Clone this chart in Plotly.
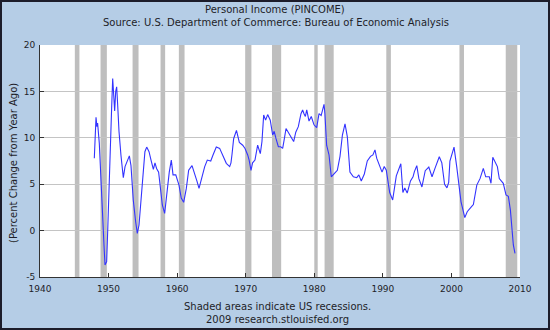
import plotly.graph_objects as go

# Personal income, percent change from a year ago (decimal year, %)
years = [
    1947.92, 1948.0, 1948.17, 1948.3, 1948.4, 1948.65, 1948.9, 1949.09, 1949.33, 1949.48,
    1949.6, 1949.72, 1949.87, 1950.06, 1950.25, 1950.45, 1950.6, 1950.75, 1950.89, 1951.04,
    1951.18, 1951.33, 1951.52, 1951.81, 1952.15, 1952.4, 1952.74, 1953.03, 1953.27, 1953.6,
    1953.95, 1954.19, 1954.44, 1954.83, 1955.07, 1955.3, 1955.56, 1955.9, 1956.19, 1956.53,
    1956.77, 1957.0, 1957.3, 1957.6, 1957.84, 1958.18, 1958.57, 1958.85, 1959.15, 1959.4,
    1959.8, 1960.27, 1960.6, 1960.95, 1961.34, 1961.68, 1962.17, 1962.56, 1962.9, 1963.19,
    1963.63, 1964.02, 1964.4, 1964.9, 1965.23, 1965.71, 1966.2, 1966.69, 1967.17, 1967.66,
    1967.85, 1968.0, 1968.24, 1968.65, 1969.07, 1969.56, 1969.9, 1970.29, 1970.5, 1970.77,
    1971.0, 1971.35, 1971.74, 1972.13, 1972.37, 1972.62, 1972.9, 1973.2, 1973.58, 1973.93,
    1974.15, 1974.42, 1974.76, 1975.1, 1975.39, 1975.6, 1975.88, 1976.2, 1976.6, 1976.99,
    1977.3, 1977.67, 1978.06, 1978.3, 1978.5, 1978.7, 1978.9, 1979.23, 1979.56, 1979.96,
    1980.35, 1980.69, 1981.0, 1981.42, 1981.55, 1981.8, 1982.15, 1982.48, 1982.98, 1983.36,
    1983.75, 1984.1, 1984.48, 1984.82, 1985.2, 1985.7, 1986.19, 1986.5, 1986.85, 1987.3,
    1987.73, 1988.2, 1988.55, 1988.85, 1989.1, 1989.4, 1989.88, 1990.2, 1990.5, 1991.0,
    1991.43, 1991.96, 1992.62, 1992.92, 1993.2, 1993.55, 1994.03, 1994.4, 1994.6, 1994.95,
    1995.25, 1995.7, 1996.18, 1996.7, 1997.17, 1997.6, 1998.23, 1998.6, 1999.0, 1999.35,
    1999.6, 1999.78, 2000.1, 2000.38, 2000.77, 2001.1, 2001.4, 2001.95, 2002.3, 2002.96,
    2003.2, 2003.7, 2004.17, 2004.65, 2005.0, 2005.52, 2005.77, 2006.03, 2006.2, 2006.45,
    2006.7, 2006.98, 2007.56, 2007.96, 2008.3, 2008.6, 2008.85, 2009.03, 2009.27,
]
pct_change = [
    7.8, 8.9, 12.2, 11.2, 11.6, 9.4, 5.3, 0.6, -1.55, -3.7,
    -3.5, -3.35, -0.1, 5.0, 8.5, 13.3, 16.4, 14.5, 12.9, 15.0,
    15.5, 13.5, 10.7, 8.1, 5.7, 6.9, 7.6, 8.05, 7.0, 3.3,
    0.95, -0.3, 0.6, 4.5, 6.6, 8.5, 9.0, 8.5, 7.6, 6.6,
    7.3, 6.7, 6.3, 4.2, 2.76, 1.86, 4.55, 6.3, 7.6, 6.0,
    6.0, 4.9, 3.5, 3.05, 4.55, 6.5, 7.0, 6.2, 5.3, 4.55,
    5.8, 6.9, 7.6, 7.5, 8.15, 9.0, 8.86, 8.0, 7.25, 6.9,
    7.3, 8.2, 9.9, 10.8, 9.5, 9.2, 8.85, 8.15, 7.6, 6.5,
    7.3, 7.6, 9.2, 8.3, 9.6, 12.46, 11.9, 12.5, 11.9, 10.3,
    10.7, 9.9, 9.04, 9.04, 8.86, 9.75, 11.0, 10.6, 10.1, 9.6,
    10.6, 11.2, 12.6, 13.0, 12.6, 12.3, 13.0, 11.8, 12.3, 11.4,
    11.1, 12.6, 12.4, 13.6, 12.6, 9.2, 8.15, 5.8, 6.2, 6.5,
    8.0, 10.3, 11.5, 10.1, 6.3, 5.8, 5.7, 6.0, 5.35, 6.1,
    7.5, 8.0, 8.15, 8.7, 7.8, 7.3, 6.3, 6.9, 6.5, 4.1,
    3.3, 5.9, 7.2, 4.1, 4.6, 4.05, 5.35, 5.8, 6.35, 7.0,
    5.6, 4.7, 6.45, 6.85, 5.8, 6.7, 7.96, 7.3, 5.0, 4.6,
    5.2, 7.5, 8.3, 9.0, 6.9, 5.1, 3.1, 1.4, 2.04, 2.6,
    2.8, 4.9, 5.6, 6.7, 5.8, 5.8, 5.1, 7.9, 7.6, 7.25,
    6.9, 5.6, 5.1, 3.84, 3.7, 2.2, 0.3, -1.55, -2.45,
]

# US recessions (decimal years)
rec_start = [1945.08, 1948.83, 1953.5, 1957.58, 1960.25, 1969.92, 1973.83, 1980.0, 1981.5, 1990.5, 2001.17, 2007.92]
rec_end = [1945.75, 1949.75, 1954.37, 1958.25, 1961.08, 1970.83, 1975.17, 1980.5, 1982.83, 1991.17, 2001.83, 2009.6]

x_ticks = [1940, 1950, 1960, 1970, 1980, 1990, 2000, 2010]
y_ticks = [-5, 0, 5, 10, 15, 20]

W, H = 550, 330
ML, MR, MT, MB = 40, 30, 45, 53
PW, PH = W - ML - MR, H - MT - MB


def px_x(px):
    return (px - ML) / PW


def px_y(py):
    return (H - MB - py) / PH


BG = "#b5cde6"
TXT = "#1e1e28"
FONT = "DejaVu Sans"

fig = go.Figure()
fig.add_trace(go.Scatter(
    x=years, y=pct_change, mode="lines",
    line=dict(color="#3333ff", width=1.1),
    hoverinfo="skip", showlegend=False,
))

shapes = []
for s, e in zip(rec_start, rec_end):
    shapes.append(dict(
        type="rect", xref="x", yref="paper", x0=s, x1=e, y0=0, y1=1,
        fillcolor="#bebebe", line=dict(width=0), layer="below",
    ))
# frame around the whole figure
shapes.append(dict(
    type="rect", xref="paper", yref="paper",
    x0=px_x(1), x1=px_x(W - 1), y0=px_y(H - 1), y1=px_y(1),
    line=dict(color="#1c1c2a", width=2), fillcolor="rgba(0,0,0,0)", layer="above",
))

annotations = [
    dict(text="Personal Income (PINCOME)", x=px_x(275), y=px_y(10)),
    dict(text="Source: U.S. Department of Commerce: Bureau of Economic Analysis", x=px_x(276), y=px_y(22.5)),
    dict(text="Shaded areas indicate US recessions.", x=px_x(277), y=px_y(306.5)),
    dict(text="2009 research.stlouisfed.org", x=px_x(277), y=px_y(319)),
    dict(text="(Percent Change from Year Ago)", x=px_x(13), y=px_y(163), textangle=-90),
]
for a in annotations:
    a.update(xref="paper", yref="paper", showarrow=False, xanchor="center", yanchor="middle",
             font=dict(family=FONT, size=10, color=TXT))

fig.update_layout(
    width=W, height=H,
    margin=dict(l=ML, r=MR, t=MT, b=MB),
    paper_bgcolor=BG, plot_bgcolor="white",
    shapes=shapes, annotations=annotations,
    xaxis=dict(
        range=[1940, 2010], tickmode="array", tickvals=x_ticks,
        ticktext=[str(v) for v in x_ticks],
        showgrid=False, zeroline=False,
        showline=True, linecolor="#333333", linewidth=1,
        ticks="inside", ticklen=4, tickcolor="#333333",
        ticklabelstandoff=3,
        tickfont=dict(family=FONT, size=9, color=TXT),
    ),
    yaxis=dict(
        range=[-5, 20], tickmode="array", tickvals=y_ticks,
        ticktext=[str(v) for v in y_ticks],
        showgrid=True, gridcolor="#c4c4c4", gridwidth=1, zeroline=False,
        showline=True, linecolor="#333333", linewidth=1,
        ticks="inside", ticklen=4, tickcolor="#333333",
        ticklabelstandoff=2,
        tickfont=dict(family=FONT, size=9, color=TXT),
    ),
)

fig.write_html("out.html")
